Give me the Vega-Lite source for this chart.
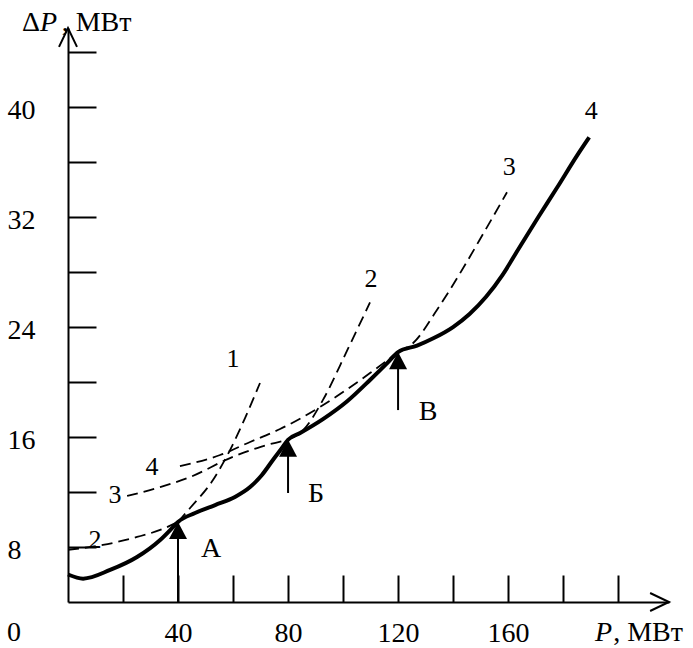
{
  "$schema": "https://vega.github.io/schema/vega-lite/v6.json",
  "width": 601,
  "height": 574,
  "autosize": {"type": "none"},
  "padding": {"left": 68, "top": 28, "right": 24, "bottom": 46},
  "background": "white",
  "config": {"view": {"stroke": null}, "font": "Liberation Serif"},
  "datasets": {
    "envelope": [
      {"P": 0, "dP": 6.0}, {"P": 5.5, "dP": 5.7}, {"P": 15.3, "dP": 6.33}, {"P": 25.1, "dP": 7.27},
      {"P": 33.5, "dP": 8.51}, {"P": 38.2, "dP": 9.45}, {"P": 40, "dP": 9.82}, {"P": 46.2, "dP": 10.47},
      {"P": 53.5, "dP": 11.05}, {"P": 60.7, "dP": 11.64}, {"P": 66.2, "dP": 12.36}, {"P": 70.5, "dP": 13.24},
      {"P": 74.5, "dP": 14.33}, {"P": 77.8, "dP": 15.2}, {"P": 80, "dP": 15.8}, {"P": 84.4, "dP": 16.29},
      {"P": 92.7, "dP": 17.3}, {"P": 101.5, "dP": 18.6}, {"P": 109.8, "dP": 20.15}, {"P": 116.4, "dP": 21.45},
      {"P": 120, "dP": 22.18}, {"P": 126.9, "dP": 22.65}, {"P": 133, "dP": 23.2}, {"P": 140, "dP": 24.0},
      {"P": 146, "dP": 24.95}, {"P": 152, "dP": 26.2}, {"P": 158, "dP": 27.8}, {"P": 164, "dP": 29.75},
      {"P": 171, "dP": 32.0}, {"P": 178, "dP": 34.2}, {"P": 185, "dP": 36.45}, {"P": 189.5, "dP": 37.8}
    ],
    "branches": [
      {"curve": "1", "P": 40, "dP": 9.82}, {"curve": "1", "P": 44.4, "dP": 10.84}, {"curve": "1", "P": 52.7, "dP": 12.87},
      {"curve": "1", "P": 58.9, "dP": 15.05}, {"curve": "1", "P": 64.4, "dP": 17.4}, {"curve": "1", "P": 69.8, "dP": 19.93},
      {"curve": "2a", "P": 0, "dP": 7.8}, {"curve": "2a", "P": 12.7, "dP": 8.15}, {"curve": "2a", "P": 25.1, "dP": 8.73},
      {"curve": "2a", "P": 33.5, "dP": 9.24}, {"curve": "2a", "P": 40, "dP": 9.82},
      {"curve": "2b", "P": 80, "dP": 15.8}, {"curve": "2b", "P": 85.5, "dP": 16.5}, {"curve": "2b", "P": 92.7, "dP": 18.7},
      {"curve": "2b", "P": 101.5, "dP": 22.3}, {"curve": "2b", "P": 109.8, "dP": 25.8},
      {"curve": "3a", "P": 21.5, "dP": 11.71}, {"curve": "3a", "P": 33.5, "dP": 12.36}, {"curve": "3a", "P": 44.4, "dP": 13.09},
      {"curve": "3a", "P": 58.9, "dP": 14.47}, {"curve": "3a", "P": 69.8, "dP": 15.27}, {"curve": "3a", "P": 80, "dP": 15.8},
      {"curve": "3b", "P": 120, "dP": 22.18}, {"curve": "3b", "P": 125.5, "dP": 22.84}, {"curve": "3b", "P": 134, "dP": 25.2},
      {"curve": "3b", "P": 142.5, "dP": 27.9}, {"curve": "3b", "P": 151, "dP": 30.8}, {"curve": "3b", "P": 159.6, "dP": 33.8},
      {"curve": "4a", "P": 40.7, "dP": 13.89}, {"curve": "4a", "P": 55.3, "dP": 14.69}, {"curve": "4a", "P": 66.2, "dP": 15.64},
      {"curve": "4a", "P": 77.1, "dP": 16.58}, {"curve": "4a", "P": 91.6, "dP": 18.18}, {"curve": "4a", "P": 109.8, "dP": 20.65},
      {"curve": "4a", "P": 120, "dP": 22.18}
    ],
    "curveLabels": [
      {"text": "1", "P": 60, "dP": 21.67}, {"text": "2", "P": 110.2, "dP": 27.49}, {"text": "3", "P": 160.4, "dP": 35.64},
      {"text": "4", "P": 190.2, "dP": 39.71}, {"text": "2", "P": 9.8, "dP": 8.51}, {"text": "3", "P": 17.1, "dP": 11.78},
      {"text": "4", "P": 30.5, "dP": 13.82}
    ],
    "pointLabels": [
      {"text": "А", "P": 52, "dP": 7.85}, {"text": "Б", "P": 90.2, "dP": 11.85}, {"text": "В", "P": 130.9, "dP": 17.82}
    ],
    "arrows": [
      {"name": "А", "P": 40, "from": 4, "to": 9.82},
      {"name": "Б", "P": 80, "from": 11.93, "to": 15.8},
      {"name": "В", "P": 120, "from": 17.96, "to": 22.18}
    ],
    "axisEnds": [
      {"axis": "x", "P": 218.5, "dP": 4},
      {"axis": "y", "P": 0, "dP": 45.75}
    ],
    "uprightText": [
      {"text": "Δ", "P": -16.7, "dP": 45.53},
      {"text": ", МВт", "P": -2.3, "dP": 45.53},
      {"text": ", МВт", "P": 198.2, "dP": 1.164},
      {"text": "0", "P": -22.2, "dP": 1.164}
    ],
    "italicText": [
      {"text": "P", "P": -10.2, "dP": 45.53},
      {"text": "P", "P": 191.6, "dP": 1.164}
    ]
  },
  "layer": [
    {
      "data": {"name": "envelope"},
      "mark": {"type": "line", "color": "black", "strokeWidth": 4, "interpolate": "monotone"},
      "encoding": {
        "x": {
          "field": "P", "type": "quantitative",
          "scale": {"domain": [0, 218.5], "nice": false, "zero": false},
          "axis": {
            "title": null, "grid": false, "orient": "bottom",
            "values": [20, 40, 60, 80, 100, 120, 140, 160, 180, 200],
            "labelExpr": "(datum.value % 40 == 0 && datum.value <= 160) ? datum.label : ''",
            "tickSize": -27, "tickWidth": 2, "tickColor": "black",
            "domainWidth": 2, "domainColor": "black",
            "labelPadding": 66, "labelBaseline": "alphabetic", "labelAlign": "center",
            "labelFont": "Liberation Serif", "labelFontSize": 28, "labelColor": "black",
            "labelOverlap": false, "labelFlush": false, "labelBound": false
          }
        },
        "y": {
          "field": "dP", "type": "quantitative",
          "scale": {"domain": [4, 45.75], "nice": false, "zero": false},
          "axis": {
            "title": null, "grid": false, "orient": "left",
            "values": [12, 16, 20, 24, 28, 32, 36, 40, 44, 8],
            "labelExpr": "(datum.value % 8 == 0 && datum.value <= 40) ? datum.label : ''",
            "tickSize": -28, "tickWidth": 2, "tickColor": "black",
            "domainWidth": 2, "domainColor": "black",
            "labelPadding": 89, "labelBaseline": "middle", "labelAlign": "left", "labelOffset": 3,
            "labelFont": "Liberation Serif", "labelFontSize": 28, "labelColor": "black",
            "labelOverlap": false, "labelFlush": false, "labelBound": false
          }
        }
      }
    },
    {
      "data": {"name": "branches"},
      "mark": {"type": "line", "color": "black", "strokeWidth": 1.8, "strokeDash": [11, 6], "interpolate": "monotone"},
      "encoding": {
        "x": {"field": "P", "type": "quantitative"},
        "y": {"field": "dP", "type": "quantitative"},
        "detail": {"field": "curve"}
      }
    },
    {
      "data": {"name": "arrows"},
      "mark": {"type": "rule", "color": "black", "strokeWidth": 2},
      "encoding": {
        "x": {"field": "P", "type": "quantitative"},
        "y": {"field": "from", "type": "quantitative"},
        "y2": {"field": "to"}
      }
    },
    {
      "data": {"name": "arrows"},
      "mark": {"type": "point", "shape": "M0,0 L-1,1.9 L1,1.9 Z", "size": 324, "filled": true, "color": "black", "opacity": 1},
      "encoding": {
        "x": {"field": "P", "type": "quantitative"},
        "y": {"field": "to", "type": "quantitative"}
      }
    },
    {
      "data": {"name": "axisEnds"},
      "transform": [{"filter": "datum.axis == 'y'"}],
      "mark": {"type": "point", "shape": "M-1,2.1 L0,0 L1,2.1", "size": 324, "filled": false, "stroke": "black", "strokeWidth": 2, "opacity": 1},
      "encoding": {
        "x": {"field": "P", "type": "quantitative"},
        "y": {"field": "dP", "type": "quantitative"}
      }
    },
    {
      "data": {"name": "axisEnds"},
      "transform": [{"filter": "datum.axis == 'x'"}],
      "mark": {"type": "point", "shape": "M-2.1,-1 L0,0 L-2.1,1", "size": 324, "filled": false, "stroke": "black", "strokeWidth": 2, "opacity": 1},
      "encoding": {
        "x": {"field": "P", "type": "quantitative"},
        "y": {"field": "dP", "type": "quantitative"}
      }
    },
    {
      "data": {"name": "curveLabels"},
      "mark": {"type": "text", "font": "Liberation Serif", "fontSize": 26, "color": "black", "align": "center", "baseline": "middle"},
      "encoding": {
        "x": {"field": "P", "type": "quantitative"},
        "y": {"field": "dP", "type": "quantitative"},
        "text": {"field": "text"}
      }
    },
    {
      "data": {"name": "pointLabels"},
      "mark": {"type": "text", "font": "Liberation Serif", "fontSize": 28, "color": "black", "align": "center", "baseline": "middle"},
      "encoding": {
        "x": {"field": "P", "type": "quantitative"},
        "y": {"field": "dP", "type": "quantitative"},
        "text": {"field": "text"}
      }
    },
    {
      "data": {"name": "uprightText"},
      "mark": {"type": "text", "font": "Liberation Serif", "fontSize": 28, "color": "black", "align": "left", "baseline": "alphabetic"},
      "encoding": {
        "x": {"field": "P", "type": "quantitative"},
        "y": {"field": "dP", "type": "quantitative"},
        "text": {"field": "text"}
      }
    },
    {
      "data": {"name": "italicText"},
      "mark": {"type": "text", "font": "Liberation Serif", "fontSize": 28, "fontStyle": "italic", "color": "black", "align": "left", "baseline": "alphabetic"},
      "encoding": {
        "x": {"field": "P", "type": "quantitative"},
        "y": {"field": "dP", "type": "quantitative"},
        "text": {"field": "text"}
      }
    }
  ]
}
